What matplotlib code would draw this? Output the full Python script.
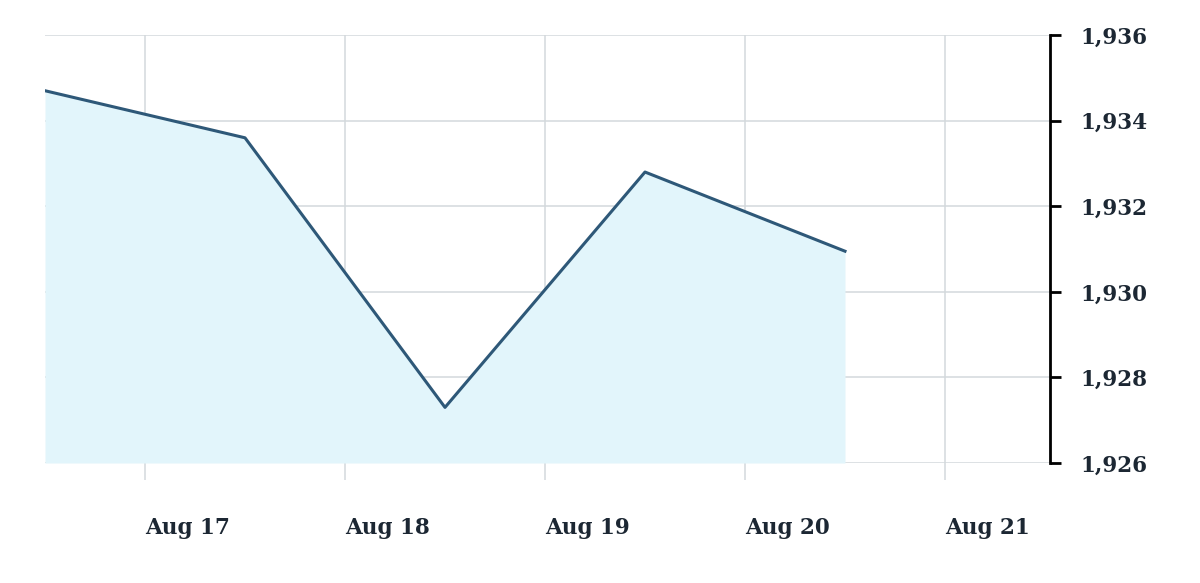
import matplotlib
matplotlib.use("Agg")
import matplotlib.pyplot as plt
import matplotlib.dates as mdates
import pandas as pd
from matplotlib.ticker import FuncFormatter

# data (one point per day, around midday)
dates = pd.to_datetime(["2021-08-16 12:00", "2021-08-17 12:00", "2021-08-18 12:00",
                        "2021-08-19 12:00", "2021-08-20 12:00"])
values = [1934.7, 1933.6, 1927.3, 1932.8, 1930.95]

x_ticks = pd.to_datetime(["2021-08-17", "2021-08-18", "2021-08-19", "2021-08-20", "2021-08-21"])
y_ticks = [1926, 1928, 1930, 1932, 1934, 1936]

fig = plt.figure(figsize=(12, 5.83), dpi=100)
ax = fig.add_axes([0.0375, 0.2058, 0.8375, 0.734])

line_col = "#2e5878"
fill_col = "#e2f5fb"
grid_col = "#d3d8dc"
txt_col = "#1c2733"

ax.fill_between(dates, values, y_ticks[0], color=fill_col, lw=0, zorder=1)
ax.plot(dates, values, color=line_col, lw=2.2, zorder=3)

ax.set_ylim(y_ticks[0], y_ticks[-1])
ax.set_xlim(pd.Timestamp("2021-08-16 12:00"), pd.Timestamp("2021-08-21 12:36"))

ax.set_xticks(x_ticks)
ax.xaxis.set_major_formatter(mdates.DateFormatter("%b %-d"))
ax.set_yticks(y_ticks)
ax.yaxis.set_major_formatter(FuncFormatter(lambda v, p: f"{v:,.0f}"))

ax.yaxis.tick_right()
ax.grid(True, color=grid_col, lw=1.1, zorder=0)
ax.set_axisbelow(True)

for s in ["left", "top", "bottom"]:
    ax.spines[s].set_visible(False)
ax.spines["right"].set_color("black")
ax.spines["right"].set_linewidth(2)

ax.tick_params(axis="y", direction="out", length=8, width=2, color="black", pad=14,
               labelsize=15.5, labelcolor=txt_col)
ax.tick_params(axis="x", direction="out", length=12, width=1.1, color=grid_col, pad=27,
               labelsize=15.5, labelcolor=txt_col)
for lab in ax.get_xticklabels():
    lab.set_horizontalalignment("left")
for lab in ax.get_xticklabels() + ax.get_yticklabels():
    lab.set_fontfamily("DejaVu Serif")
    lab.set_fontweight("bold")

fig.savefig("out.png", dpi=100, facecolor="white")
